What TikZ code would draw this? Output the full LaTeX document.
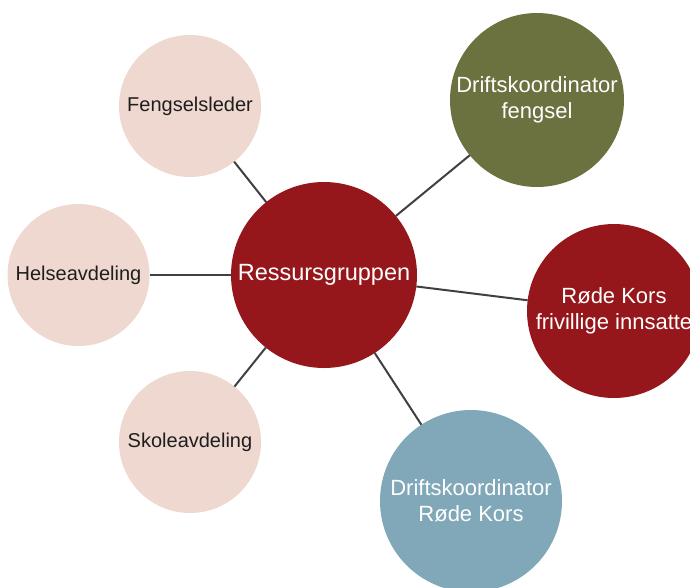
\documentclass[tikz,border=0pt]{standalone}
\usepackage{fontspec}
\setmainfont{Liberation Sans}
\definecolor{hubred}{HTML}{95171B}
\definecolor{pale}{HTML}{EFD8D0}
\definecolor{olive}{HTML}{6B713F}
\definecolor{steel}{HTML}{80A8B8}
\definecolor{lnk}{HTML}{404040}
\definecolor{darktxt}{HTML}{1E1E1E}
\begin{document}
\begin{tikzpicture}[x=1pt,y=-1pt,
  bub/.style={circle,inner sep=0pt,outer sep=0pt,align=center},
  small/.style={bub,fill=pale,minimum size=142pt,text=darktxt,font=\fontsize{20}{25}\selectfont},
  big/.style={bub,minimum size=174pt,text=white,font=\fontsize{22}{26}\selectfont},
  hub/.style={bub,fill=hubred,minimum size=186pt,text=white,font=\fontsize{23.5}{28}\selectfont},
  link/.style={draw=lnk,line width=2pt}]
\useasboundingbox (0,0) rectangle (690,587);
\clip (0,0) rectangle (690,587);
\node[hub] (hub) at (324,275) {Ressursgruppen};
\node[small] (fl) at (190,106) {Fengselsleder};
\node[small] (he) at (78.5,275) {Helseavdeling};
\node[small] (sk) at (190,442) {Skoleavdeling};
\node[big,fill=olive] (df) at (537,100) {Driftskoordinator\\fengsel};
\node[big,fill=hubred] (rk) at (614,311) {Røde Kors\\frivillige innsatte};
\node[big,fill=steel,minimum size=182pt] (dr) at (471,501) {Driftskoordinator\\Røde Kors};
\draw[link] (hub) -- (fl);
\draw[link] (hub) -- (he);
\draw[link] (hub) -- (sk);
\draw[link] (hub) -- (df);
\draw[link] (hub) -- (rk);
\draw[link] (hub) -- (dr);
\end{tikzpicture}
\end{document}
